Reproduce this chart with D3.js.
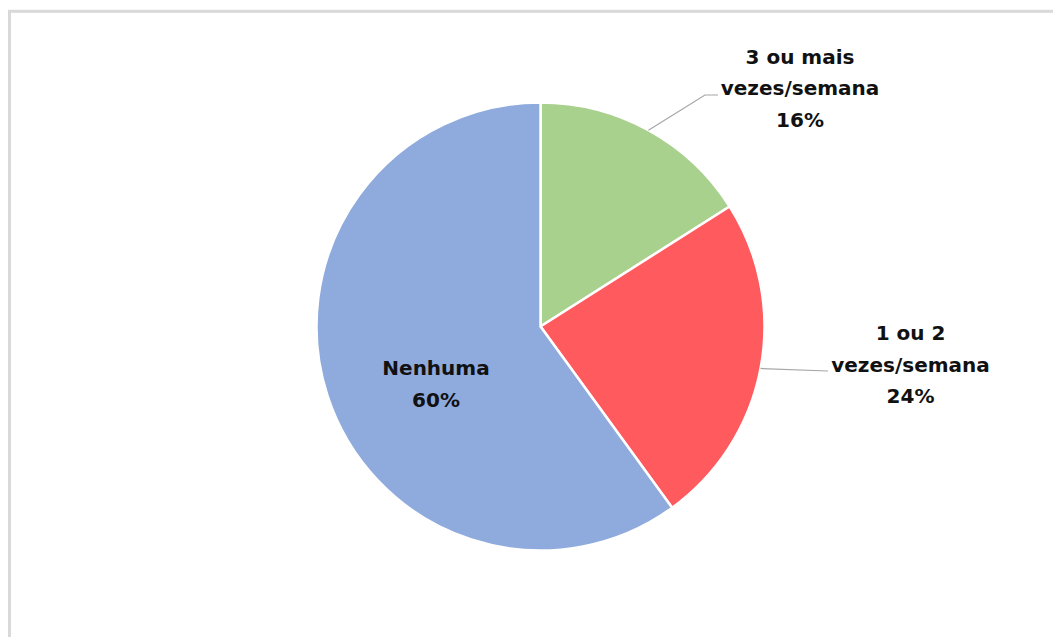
<!DOCTYPE html>
<html>
<head>
<meta charset="utf-8">
<script src="https://cdn.jsdelivr.net/npm/d3@7"></script>
<style>
  html, body { margin: 0; padding: 0; background: #fff; overflow: hidden; }
  svg { display: block; }
  text { font-family: "DejaVu Sans", sans-serif; font-weight: bold; font-size: 20px; fill: #111; }
</style>
</head>
<body>
<svg id="chart" width="1053" height="637"></svg>
<script>
// Weekly frequency shares (clockwise from 12 o'clock)
const categories = ["3 ou mais vezes/semana", "1 ou 2 vezes/semana", "Nenhuma"];
const labelLines = [["3 ou mais", "vezes/semana"], ["1 ou 2", "vezes/semana"], ["Nenhuma"]];
const values = [16, 24, 60];
const colors = ["#A9D18E", "#FF5A5E", "#8FAADC"];

const W = 1053, H = 637;
const cx = 540.5, cy = 326.5, R = 224;

const svg = d3.select("#chart");

// chart frame
svg.append("rect")
  .attr("x", 9.5).attr("y", 11.3)
  .attr("width", W + 50).attr("height", H + 50)
  .attr("fill", "none").attr("stroke", "#d9d9d9").attr("stroke-width", 3);

const pie = d3.pie().sort(null).value(d => d)(values);
const arc = d3.arc().innerRadius(0).outerRadius(R);

const g = svg.append("g").attr("transform", `translate(${cx},${cy})`);

g.selectAll("path.slice")
  .data(pie)
  .join("path")
  .attr("class", "slice")
  .attr("d", arc)
  .attr("fill", (d, i) => colors[i])
  .attr("stroke", "#fff")
  .attr("stroke-width", 2.5)
  .attr("stroke-linejoin", "round");

// label placement (relative to pie centre): text centre x, first baseline y, leader elbow
const labelPos = [
  { x: 259.5, y: -263, leader: [[164.5, -231.5], [177.5, -231.5]] },
  { x: 370, y: 13.5, leader: [[287.5, 44.5]] },
  { x: -104.5, y: 48.5, leader: null }
];
const lineH = 31.5;

const edge = d3.arc().innerRadius(R).outerRadius(R);

pie.forEach((d, i) => {
  const p = labelPos[i];
  if (p.leader) {
    const start = edge.centroid(d);
    const pts = [start, ...p.leader];
    g.append("path")
      .attr("d", d3.line()(pts))
      .attr("fill", "none")
      .attr("stroke", "#a6a6a6")
      .attr("stroke-width", 1.2);
  }
  const lines = [...labelLines[i], d3.format(".0f")(d.data) + "%"];
  const t = g.append("text").attr("text-anchor", "middle");
  lines.forEach((s, k) => {
    t.append("tspan").attr("x", p.x).attr("y", p.y + k * lineH).text(s);
  });
});
</script>
</body>
</html>
